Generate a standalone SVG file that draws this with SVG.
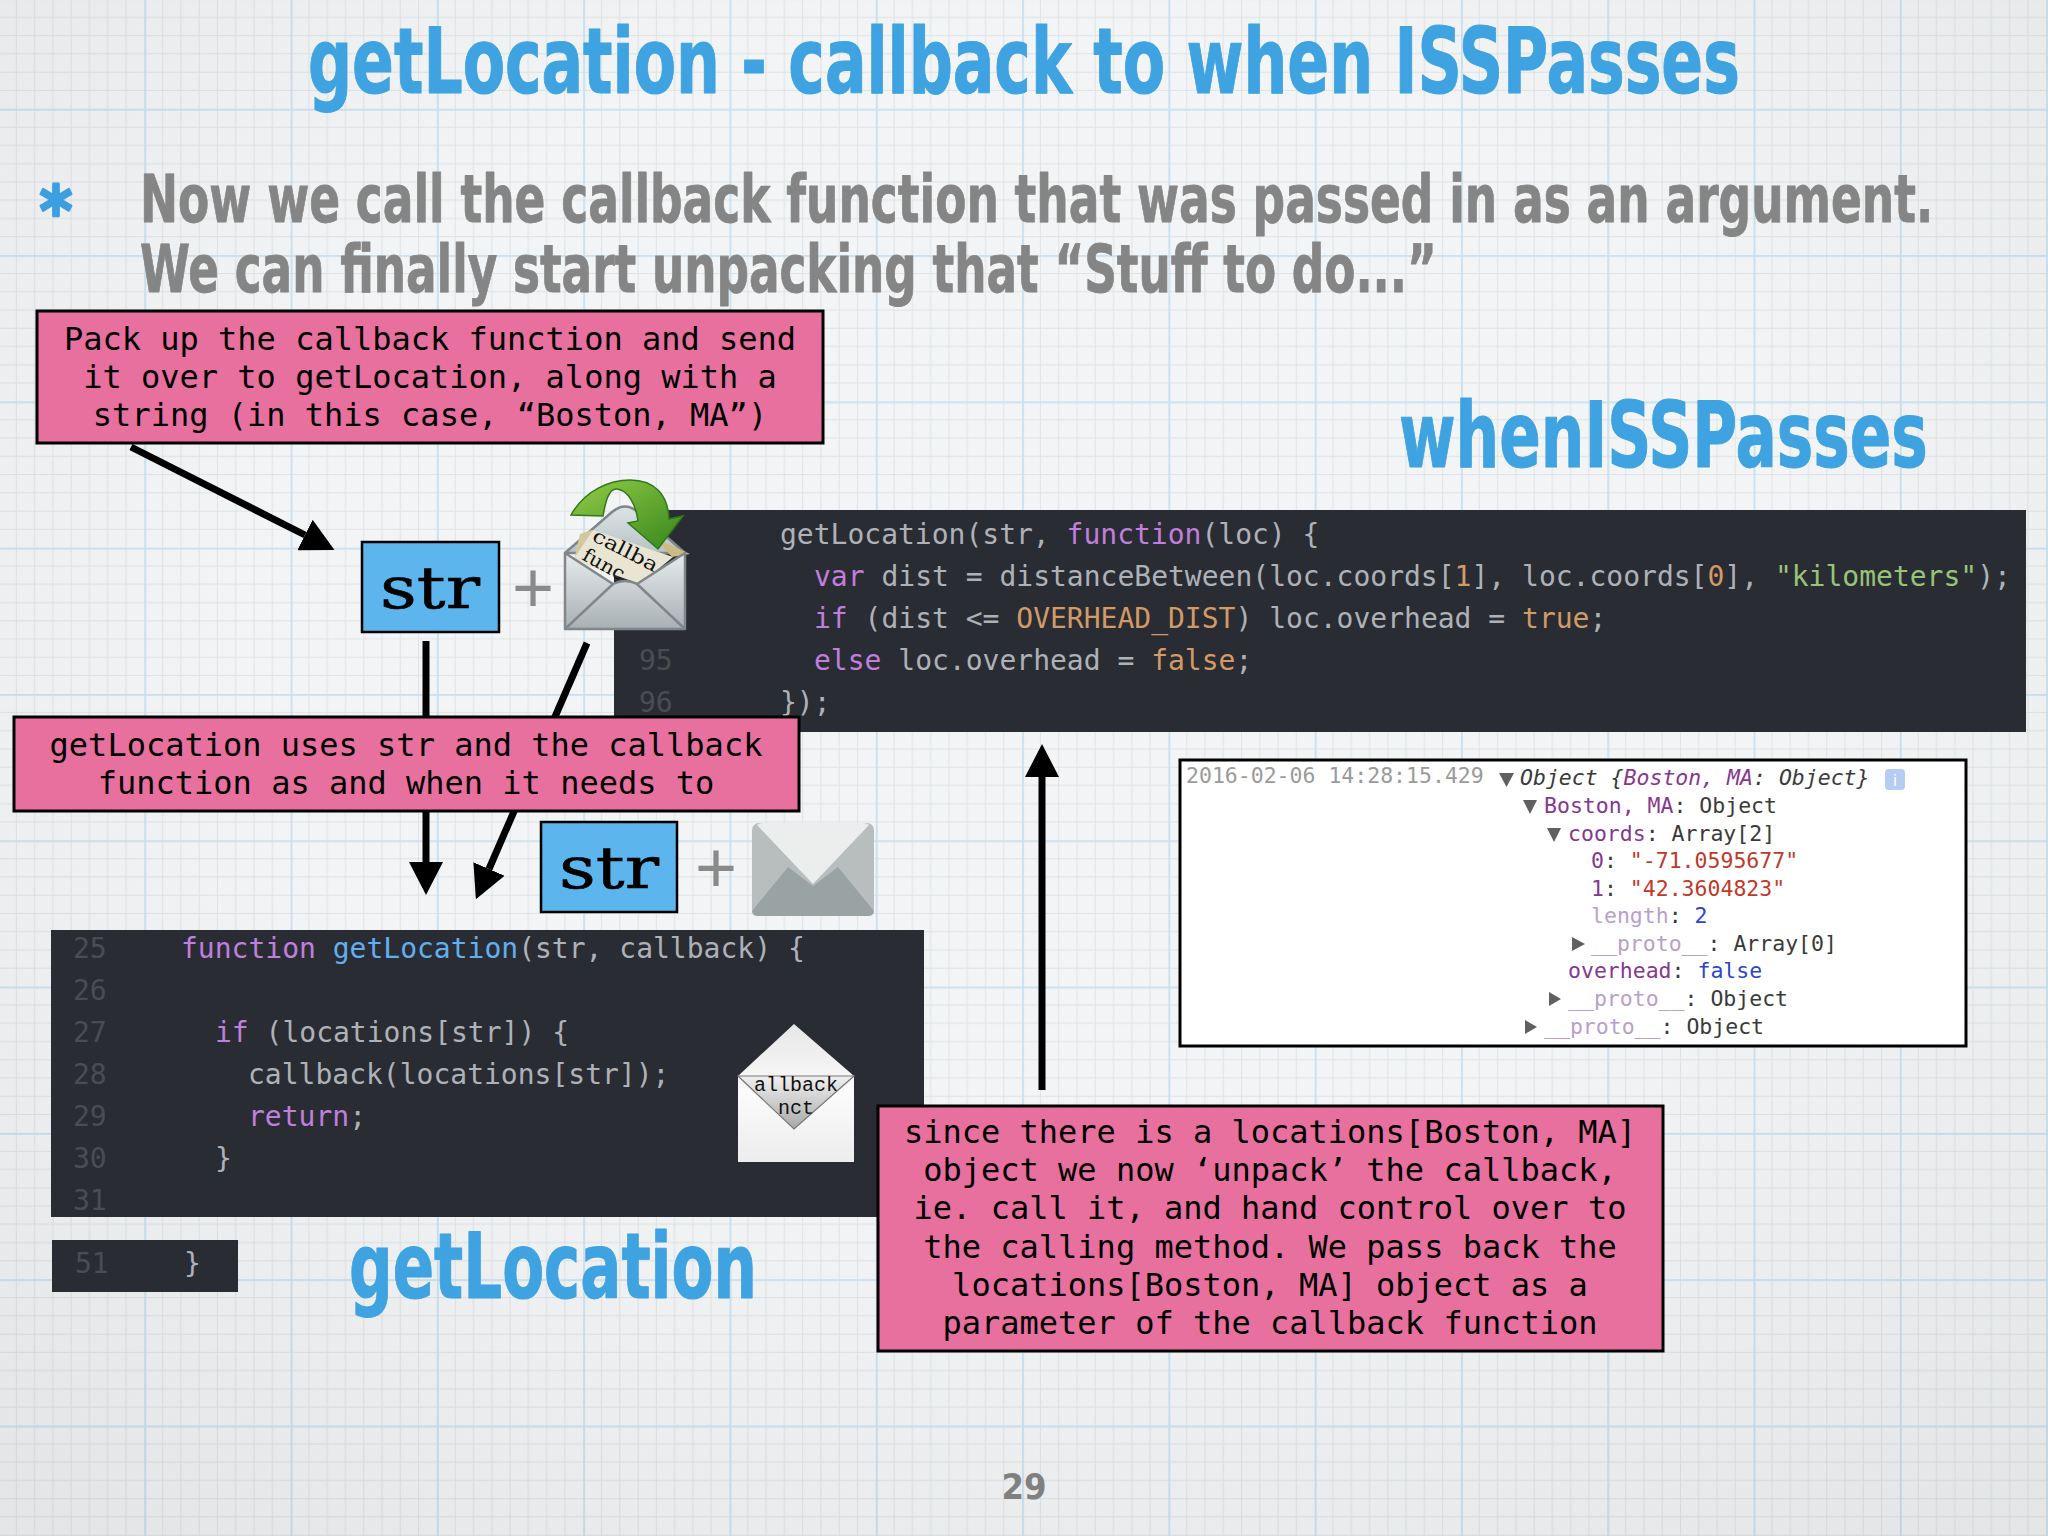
<svg xmlns="http://www.w3.org/2000/svg" width="2048" height="1536" viewBox="0 0 2048 1536">
<style>
.hand{font-family:"DejaVu Sans",sans-serif;font-weight:700;font-stretch:condensed;stroke-linejoin:round}
.title{font-size:90px;fill:#3ea3e0;stroke:#3ea3e0;stroke-width:1}
.body{font-size:66px;fill:#858585;stroke:#858585;stroke-width:.8}
.note{font-family:"DejaVu Sans Mono",monospace;font-size:32px;fill:#000;text-anchor:middle}
.pink{fill:#e8709f;stroke:#000;stroke-width:3}
.blue{fill:#5db5ee;stroke:#000;stroke-width:2.5}
.str{font-family:"DejaVu Serif",serif;font-size:58px;fill:#000;stroke:#000;stroke-width:.6}
.plus{font-family:"Liberation Sans",sans-serif;font-size:72px;fill:#8a8a8a;text-anchor:middle}
.code{fill:#2a2c33}
.c{font-family:"DejaVu Sans Mono",monospace;font-size:28px;fill:#aeb2b8}
.n{fill:#4a4c53}.k{fill:#c07fdc}.o{fill:#d19a66}.g{fill:#98c379}.b{fill:#61afef}
.con{font-family:"DejaVu Sans Mono",monospace;font-size:21.5px;fill:#3a3a3a}
.p{fill:#86378f}.lp{fill:#b9a0cc}.r{fill:#c0392b}.bl{fill:#2b46c8}.ts{fill:#9a9a9a}
.tri{fill:#606060}
.arrow{fill:none;stroke:#000;stroke-width:7;marker-end:url(#head)}
.env{stroke:#808689;stroke-width:2.5;stroke-linejoin:round}
.paper{font-family:"DejaVu Serif",serif;font-size:19px;fill:#111}
.tag{font-family:"Liberation Mono",monospace;font-size:20px;fill:#111;text-anchor:middle}
</style>
<defs>
<pattern id="grid" width="146.3" height="146.3" patternUnits="userSpaceOnUse" x="-2" y="-37.5">
<path d="M18.3 0V146.3M36.6 0V146.3M54.9 0V146.3M73.2 0V146.3M91.4 0V146.3M109.7 0V146.3M128 0V146.3M0 18.3H146.3M0 36.6H146.3M0 54.9H146.3M0 73.2H146.3M0 91.4H146.3M0 109.7H146.3M0 128H146.3" stroke="#dfe3e5" stroke-width="1" fill="none"/>
<path d="M.8 0V146.3M0 .8H146.3" stroke="#c8e0f0" stroke-width="2" fill="none"/>
</pattern>
<radialGradient id="vig" cx="50%" cy="40%" r="75%">
<stop offset="0.5" stop-color="#000" stop-opacity="0"/>
<stop offset="1" stop-color="#000" stop-opacity="0.06"/>
</radialGradient>
<linearGradient id="envBody" x1="0" y1="0" x2="0" y2="1"><stop offset="0" stop-color="#e6ecee"/><stop offset="1" stop-color="#a9b0b3"/></linearGradient>
<linearGradient id="envFlap" x1="0" y1="0" x2="0" y2="1"><stop offset="0" stop-color="#dbe3e6"/><stop offset="1" stop-color="#b8c2c6"/></linearGradient>
<linearGradient id="green" x1="0" y1="0" x2="1" y2="1"><stop offset="0" stop-color="#93cc48"/><stop offset="1" stop-color="#37861c"/></linearGradient>
<linearGradient id="wBody" x1="0" y1="0" x2="0" y2="1"><stop offset="0" stop-color="#e6e6e6"/><stop offset=".5" stop-color="#fbfbfb"/><stop offset="1" stop-color="#ececec"/></linearGradient>
<linearGradient id="wFlap" x1="0" y1="0" x2="0" y2="1"><stop offset="0" stop-color="#f0f0f0"/><stop offset="1" stop-color="#a8a8a8"/></linearGradient>
<marker id="head" markerUnits="userSpaceOnUse" markerWidth="34" markerHeight="34" refX="0" refY="17" orient="auto"><path d="M0 0L33 17L0 34Z" fill="#000"/></marker>
</defs>

<rect width="2048" height="1536" fill="#f2f4f5"/>
<rect width="2048" height="1536" fill="url(#grid)"/>
<rect width="2048" height="1536" fill="url(#vig)"/>

<g id="title"><text class="hand title" transform="translate(308 93) scale(.758 1)" textLength="1889" lengthAdjust="spacingAndGlyphs">getLocation - callback to when ISSPasses</text></g>
<g id="bullet">
<text class="hand" x="56" y="235" font-size="70" fill="#3d9fe0" stroke="#3d9fe0" stroke-width="2.5" text-anchor="middle">*</text>
<text class="hand body" transform="translate(140 222) scale(.766 1)" textLength="2341" lengthAdjust="spacingAndGlyphs">Now we call the callback function that was passed in as an argument.</text>
<text class="hand body" transform="translate(140 292) scale(.766 1)" textLength="1693" lengthAdjust="spacingAndGlyphs">We can finally start unpacking that “Stuff to do...”</text>
</g>
<g id="label-whenISSPasses"><text class="hand title" transform="translate(1399 467) scale(.75 1)" textLength="705" lengthAdjust="spacingAndGlyphs">whenISSPasses</text></g>
<g id="label-getLocation"><text class="hand title" transform="translate(349 1298) scale(.754 1)" textLength="541" lengthAdjust="spacingAndGlyphs">getLocation</text></g>

<g id="code-whenISSPasses">
<rect class="code" x="614" y="510" width="1412" height="222"/>
<text class="c" x="780" y="544">getLocation(str, <tspan class="k">function</tspan>(loc) {</text>
<text class="c" x="814" y="586"><tspan class="k">var</tspan> dist = distanceBetween(loc.coords[<tspan class="o">1</tspan>], loc.coords[<tspan class="o">0</tspan>], <tspan class="g">"kilometers"</tspan>);</text>
<text class="c" x="814" y="628"><tspan class="k">if</tspan> (dist &lt;= <tspan class="o">OVERHEAD_DIST</tspan>) loc.overhead = <tspan class="o">true</tspan>;</text>
<text class="c n" x="639" y="670">95</text>
<text class="c" x="814" y="670"><tspan class="k">else</tspan> loc.overhead = <tspan class="o">false</tspan>;</text>
<text class="c n" x="639" y="712">96</text>
<text class="c" x="780" y="712">});</text>
</g>

<g id="code-getLocation">
<rect class="code" x="51" y="930" width="873" height="287"/>
<text class="c n" x="73" y="958">25</text>
<text class="c" x="181" y="958"><tspan class="k">function</tspan> <tspan class="b">getLocation</tspan>(str, callback) {</text>
<text class="c n" x="73" y="1000">26</text>
<text class="c n" x="73" y="1042">27</text>
<text class="c" x="215" y="1042"><tspan class="k">if</tspan> (locations[str]) {</text>
<text class="c n" x="73" y="1084">28</text>
<text class="c" x="248" y="1084">callback(locations[str]);</text>
<text class="c n" x="73" y="1126">29</text>
<text class="c k" x="248" y="1126">return<tspan class="c">;</tspan></text>
<text class="c n" x="73" y="1168">30</text>
<text class="c" x="215" y="1168">}</text>
<text class="c n" x="73" y="1210">31</text>
</g>
<g id="code-end">
<rect class="code" x="52" y="1240" width="186" height="52"/>
<text class="c n" x="75" y="1273">51</text>
<text class="c" x="184" y="1273">}</text>
</g>

<g id="connectors">
<line class="arrow" x1="131" y1="447" x2="305" y2="535"/>
<line class="arrow" x1="426" y1="641" x2="426" y2="862"/>
<line class="arrow" x1="587" y1="643" x2="489" y2="869"/>
<line class="arrow" x1="1042" y1="1090" x2="1042" y2="777"/>
</g>

<g id="note-pack">
<rect class="pink" x="37" y="311" width="786" height="132"/>
<text class="note" x="430" y="350">Pack up the callback function and send</text>
<text class="note" x="430" y="388">it over to getLocation, along with a</text>
<text class="note" x="430" y="426">string (in this case, “Boston, MA”)</text>
</g>
<g id="note-uses">
<rect class="pink" x="14" y="717" width="785" height="94"/>
<text class="note" x="406" y="756">getLocation uses str and the callback</text>
<text class="note" x="406" y="794">function as and when it needs to</text>
</g>
<g id="note-since">
<rect class="pink" x="878" y="1106" width="785" height="245"/>
<text class="note" x="1270" y="1143">since there is a locations[Boston, MA]</text>
<text class="note" x="1270" y="1181">object we now ‘unpack’ the callback,</text>
<text class="note" x="1270" y="1219">ie. call it, and hand control over to</text>
<text class="note" x="1270" y="1258">the calling method. We pass back the</text>
<text class="note" x="1270" y="1296">locations[Boston, MA] object as a</text>
<text class="note" x="1270" y="1334">parameter of the callback function</text>
</g>

<g id="str-top">
<rect class="blue" x="362" y="542" width="137" height="90"/>
<text class="str" x="380" y="608" textLength="100" lengthAdjust="spacingAndGlyphs">str</text>
</g>
<g id="plus-top"><text class="plus" x="533" y="612">+</text></g>
<g id="envelope-open">
<path class="env" d="M565 553L612 512Q625 501 638 512L685 553Z" fill="url(#envFlap)"/>
<path d="M580 534L592 530L600 552L574 560Z" fill="#d3c79e"/>
<path d="M593 530L673 557L640 584L573 560Z" fill="#e9e5d3"/>
<path d="M655 538L690 554L672 557Z" fill="#cdbb86"/>
<text class="paper" transform="translate(591 540) rotate(27)" textLength="71" lengthAdjust="spacingAndGlyphs">callba</text>
<text class="paper" transform="translate(581 559) rotate(29)" textLength="45" lengthAdjust="spacingAndGlyphs">func</text>
<path class="env" d="M565 553L613 584Q625 578 637 584L685 553V629H565Z" fill="url(#envBody)"/>
<path class="env" d="M565 629L613 584M685 629L637 584" fill="none"/>
<path d="M571 515C585 490 610 480 630 480C655 480 668 495 669 519L683 516L658 549L628 523L638 521C636 505 628 490 617 489C608 488 605 505 603 516Z" fill="url(#green)" stroke="#2f7a18" stroke-width="1.5"/>
</g>

<g id="str-bottom">
<rect class="blue" x="541" y="822" width="136" height="90"/>
<text class="str" x="559" y="888" textLength="100" lengthAdjust="spacingAndGlyphs">str</text>
</g>
<g id="plus-bottom"><text class="plus" x="716" y="892">+</text></g>
<g id="envelope-closed">
<rect x="752" y="823" width="122" height="93" rx="7" fill="#b8bebe"/>
<path d="M752 911L788 867L813 886L838 867L874 911Q874 916 868 916H758Q752 916 752 911Z" fill="#9aa3a3"/>
<path d="M757 825Q759 823 763 823H863Q867 823 869 825L813 884Z" fill="#eceded"/>
</g>

<g id="envelope-white">
<path d="M738 1076L794 1024L854 1076V1162H738Z" fill="url(#wBody)"/>
<path d="M738 1076H854L794 1129Z" fill="url(#wFlap)" stroke="#777" stroke-width="1.2"/>
<text class="tag" x="796" y="1091">allback</text>
<text class="tag" x="796" y="1114">nct</text>
</g>

<g id="console">
<rect x="1180" y="760" width="786" height="286" fill="#fff" stroke="#000" stroke-width="3"/>
<text class="con ts" x="1186" y="783">2016-02-06 14:28:15.429</text>
<path class="tri" d="M1499 773H1514L1506.500 787Z"/>
<text class="con" x="1520" y="785" font-style="italic">Object {<tspan class="p">Boston, MA</tspan>: Object}</text>
<rect x="1885" y="769" width="20" height="21" rx="4" fill="#b5cdf5"/>
<text x="1895" y="786" font-family="Liberation Sans,sans-serif" font-size="16" fill="#fff" text-anchor="middle">i</text>
<path class="tri" d="M1523 800H1537L1530 814Z"/>
<text class="con" x="1544" y="813"><tspan class="p">Boston, MA</tspan>: Object</text>
<path class="tri" d="M1547 828H1561L1554 842Z"/>
<text class="con" x="1568" y="841"><tspan class="p">coords</tspan>: Array[2]</text>
<text class="con" x="1591" y="868"><tspan class="p">0</tspan>: <tspan class="r">"-71.0595677"</tspan></text>
<text class="con" x="1591" y="896"><tspan class="p">1</tspan>: <tspan class="r">"42.3604823"</tspan></text>
<text class="con" x="1591" y="923"><tspan class="lp">length</tspan>: <tspan class="bl">2</tspan></text>
<path class="tri" d="M1572 937V951L1585 944Z"/>
<text class="con" x="1591" y="951"><tspan class="lp">__proto__</tspan>: Array[0]</text>
<text class="con" x="1568" y="978"><tspan class="p">overhead</tspan>: <tspan class="bl">false</tspan></text>
<path class="tri" d="M1549 992V1006L1561 999Z"/>
<text class="con" x="1568" y="1006"><tspan class="lp">__proto__</tspan>: Object</text>
<path class="tri" d="M1525 1020V1034L1537 1027Z"/>
<text class="con" x="1544" y="1034"><tspan class="lp">__proto__</tspan>: Object</text>
</g>

<g id="page-number"><text class="hand" x="1024" y="1499" font-size="36" fill="#808080" text-anchor="middle">29</text></g>
</svg>
